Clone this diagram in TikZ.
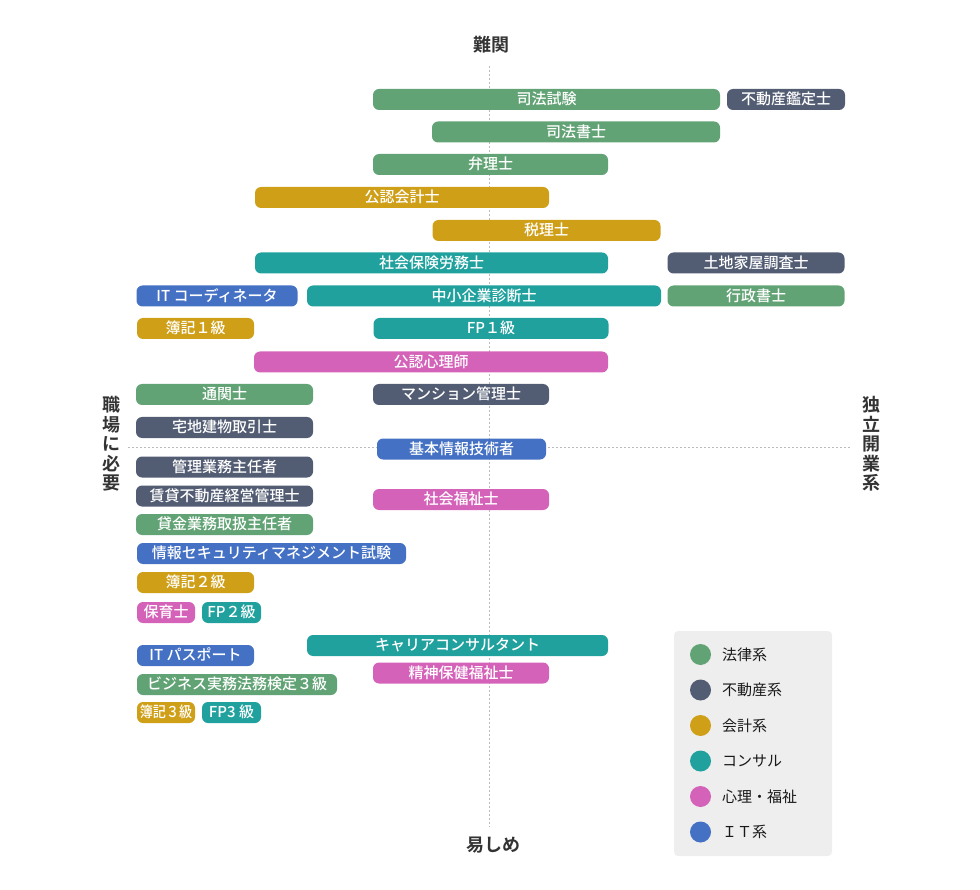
\documentclass[tikz,border=0pt]{standalone}
\usepackage{fontspec}
\setmainfont{Noto Sans CJK JP}[UprightFont=* Medium,BoldFont=* Bold]
\newfontfamily\legendfont{Noto Sans CJK JP}
\usetikzlibrary{calc}

\definecolor{law}{HTML}{62A375}
\definecolor{estate}{HTML}{525C73}
\definecolor{acct}{HTML}{CF9F17}
\definecolor{consul}{HTML}{20A19E}
\definecolor{psych}{HTML}{D562B9}
\definecolor{itc}{HTML}{4471C4}
\definecolor{axisgray}{HTML}{BBBBBB}
\definecolor{ink}{HTML}{333333}
\definecolor{legendbg}{HTML}{EEEEEE}

\begin{document}
\begin{tikzpicture}[x=1pt,y=-1pt,
    bar/.style={rounded corners=6pt,minimum height=21pt,inner sep=0pt,
      text=white,font=\fontsize{15}{15}\selectfont,text height=12.5pt,text depth=2pt},
    axislabel/.style={font=\fontsize{18}{19.5}\selectfont\bfseries,text=ink,
      inner sep=0pt,align=center},
    axisline/.style={axisgray,line width=1pt,dash pattern=on 2pt off 2pt},
    legendtext/.style={anchor=west,inner sep=0pt,text=black!90,
      font=\fontsize{15}{15}\legendfont}]
  \useasboundingbox (0,0) rectangle (980,890);

  \node[axislabel] (hard) at (491,45) {難関};
  \node[axislabel] (easy) at (493,845) {易しめ};
  \node[axislabel] (work) at (111,444) {職\\場\\に\\必\\要};
  \node[axislabel] (indep) at (871,444) {独\\立\\開\\業\\系};
  \coordinate (vtop) at (489.5,66);
  \coordinate (vbot) at (489.5,827);
  \coordinate (hleft) at (128,447);
  \coordinate (hright) at (850,447);
  \draw[axisline] (vtop) -- (vbot);
  \draw[axisline] (hleft) -- (hright);

  \node[bar,fill=law,minimum width=347pt] (shihoshiken) at (546.5,99.5) {司法試験};
  \node[bar,fill=estate,minimum width=118pt] (kanteishi) at (786,99.5) {不動産鑑定士};
  \node[bar,fill=law,minimum width=288pt] (shihoshoshi) at (576,132) {司法書士};
  \node[bar,fill=law,minimum width=235pt] (benrishi) at (490.5,164.5) {弁理士};
  \node[bar,fill=acct,minimum width=294pt] (kaikeishi) at (402,197.5) {公認会計士};
  \node[bar,fill=acct,minimum width=228pt] (zeirishi) at (546.5,230.5) {税理士};
  \node[bar,fill=consul,minimum width=353pt] (sharoshi) at (431.5,263) {社会保険労務士};
  \node[bar,fill=estate,minimum width=177pt] (chosashi) at (756,263) {土地家屋調査士};
  \node[bar,fill=itc,minimum width=161pt] (itcoord) at (217,296) {IT コーディネータ};
  \node[bar,fill=consul,minimum width=354pt] (shindanshi) at (484,296) {中小企業診断士};
  \node[bar,fill=law,minimum width=177pt] (gyosei) at (756,296) {行政書士};
  \node[bar,fill=acct,minimum width=117pt] (boki1) at (195.5,328.5) {簿記１級};
  \node[bar,fill=consul,minimum width=235pt] (fp1) at (491,328.5) {FP１級};
  \node[bar,fill=psych,minimum width=354pt] (shinrishi) at (431,362) {公認心理師};
  \node[bar,fill=law,minimum width=177pt] (tsukanshi) at (224.5,394.5) {通関士};
  \node[bar,fill=estate,minimum width=176pt] (mansion) at (461,394.5) {マンション管理士};
  \node[bar,fill=estate,minimum width=177pt] (takken) at (224.5,427.5) {宅地建物取引士};
  \node[bar,fill=itc,minimum width=169pt] (kihonjoho) at (461.5,449) {基本情報技術者};
  \node[bar,fill=estate,minimum width=177pt] (kangyo) at (224.5,467) {管理業務主任者};
  \node[bar,fill=estate,minimum width=177pt] (chintai) at (224.5,496) {賃貸不動産経営管理士};
  \node[bar,fill=psych,minimum width=176pt] (fukushi) at (461,499.5) {社会福祉士};
  \node[bar,fill=law,minimum width=177pt] (kashikin) at (224.5,524.5) {貸金業務取扱主任者};
  \node[bar,fill=itc,minimum width=269pt] (sg) at (271.5,553.5) {情報セキュリティマネジメント試験};
  \node[bar,fill=acct,minimum width=117pt] (boki2) at (195.5,582.5) {簿記２級};
  \node[bar,fill=psych,minimum width=58pt] (hoikushi) at (166,612.5) {保育士};
  \node[bar,fill=consul,minimum width=59pt] (fp2) at (231.5,612.5) {FP２級};
  \node[bar,fill=consul,minimum width=301pt] (career) at (457.5,645.5) {キャリアコンサルタント};
  \node[bar,fill=itc,minimum width=117pt] (itpass) at (195.5,655.5) {IT パスポート};
  \node[bar,fill=psych,minimum width=176pt] (seishin) at (461,673) {精神保健福祉士};
  \node[bar,fill=law,minimum width=200pt] (bizhomu) at (237,684.5) {ビジネス実務法務検定３級};
  \node[bar,fill=acct,minimum width=58pt] (boki3) at (166,712.5) {\scalebox{0.87}[1]{簿記３級}};
  \node[bar,fill=consul,minimum width=59pt] (fp3) at (231.5,712.5) {FP3 級};

  \fill[legendbg,rounded corners=4pt] (674,631) rectangle (832,856);
  \foreach \col/\txt [count=\i from 0] in
      {law/法律系,estate/不動産系,acct/会計系,consul/コンサル,psych/心理・福祉,itc/ＩＴ系} {
    \fill[\col] (700.5,654.5+35.5*\i) circle (10.5pt);
    \node[legendtext] (leg\i) at (722,654.5+35.5*\i) {\txt};
  }
\end{tikzpicture}
\end{document}
